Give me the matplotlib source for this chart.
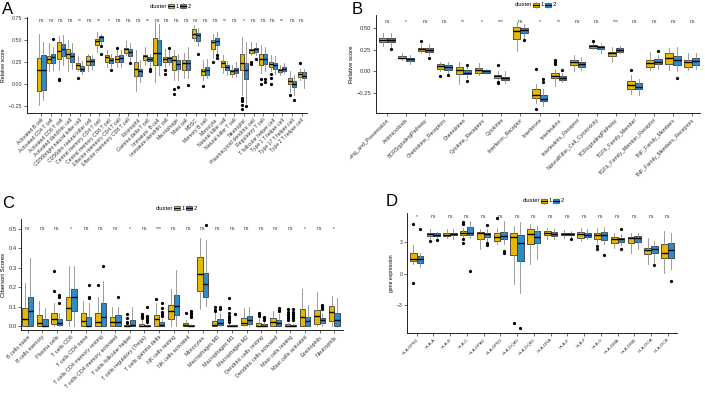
import matplotlib
matplotlib.use("Agg")
import matplotlib.pyplot as plt
from matplotlib.patches import Rectangle
from matplotlib.lines import Line2D
from matplotlib.transforms import Bbox, TransformedBbox

plt.rcParams['font.family'] = ['Liberation Sans', 'DejaVu Sans']

W, H = 705, 396
YELLOW = "#E7B800"
BLUE = "#2E8BCB"

# ---------------- Panel A : ssGSEA immune cells ----------------
A_cells = ["Activated B cell", "Activated CD4 T cell", "Activated CD8 T cell",
           "Activated dendritic cell", "CD56bright natural killer cell",
           "CD56dim natural killer cell", "Central memory CD4 T cell",
           "Central memory CD8 T cell", "Effector memeory CD4 T cell",
           "Effector memeory CD8 T cell", "Eosinophil", "Gamma delta T cell",
           "Immature  B cell", "Immature dendritic cell", "Macrophage", "Mast cell",
           "MDSC", "Memory B cell", "Monocyte", "Natural killer cell",
           "Natural killer T cell", "Neutrophil", "Plasmacytoid dendritic cell",
           "Regulatory T cell", "T follicular helper cell", "Type 1 T helper cell",
           "Type 17 T helper cell", "Type 2 T helper cell"]
A_sig = ["ns", "ns", "ns", "ns", "**", "ns", "**", "*", "ns", "ns", "ns", "**", "ns", "ns",
         "ns", "ns", "ns", "ns", "ns", "**", "ns", "*", "ns", "ns", "ns", "**", "ns", "ns"]
# (whisker low, q1, median, q3, whisker high)
A_c1 = [(-0.24, -0.08, 0.15, 0.29, 0.57), (0.14, 0.23, 0.28, 0.31, 0.46),
        (0.16, 0.28, 0.37, 0.47, 0.54), (0.14, 0.29, 0.34, 0.39, 0.50),
        (0.14, 0.17, 0.21, 0.24, 0.31), (0.14, 0.21, 0.26, 0.31, 0.34),
        (0.36, 0.44, 0.48, 0.51, 0.59), (0.19, 0.25, 0.30, 0.33, 0.38),
        (0.19, 0.25, 0.28, 0.31, 0.38), (0.33, 0.35, 0.39, 0.41, 0.48),
        (-0.08, 0.09, 0.17, 0.25, 0.38), (0.21, 0.27, 0.31, 0.33, 0.42),
        (0.02, 0.21, 0.35, 0.52, 0.70), (0.19, 0.25, 0.28, 0.30, 0.40),
        (0.04, 0.16, 0.27, 0.31, 0.38), (0.06, 0.16, 0.24, 0.27, 0.35),
        (0.48, 0.52, 0.57, 0.62, 0.67), (0.04, 0.10, 0.14, 0.17, 0.27),
        (0.29, 0.40, 0.47, 0.50, 0.57), (0.12, 0.19, 0.23, 0.26, 0.33),
        (0.08, 0.11, 0.14, 0.16, 0.21), (-0.13, 0.15, 0.24, 0.34, 0.53),
        (0.33, 0.35, 0.38, 0.40, 0.47), (0.12, 0.21, 0.28, 0.34, 0.44),
        (0.14, 0.19, 0.22, 0.25, 0.33), (0.10, 0.13, 0.16, 0.17, 0.21),
        (-0.09, 0.00, 0.03, 0.06, 0.14), (0.04, 0.08, 0.11, 0.13, 0.17)]
A_c2 = [(-0.18, -0.07, 0.15, 0.33, 0.47), (0.16, 0.23, 0.30, 0.34, 0.42),
        (0.21, 0.31, 0.40, 0.45, 0.55), (0.17, 0.25, 0.31, 0.35, 0.46),
        (0.11, 0.14, 0.17, 0.20, 0.26), (0.17, 0.21, 0.26, 0.28, 0.33),
        (0.44, 0.48, 0.53, 0.54, 0.57), (0.19, 0.24, 0.27, 0.29, 0.34),
        (0.19, 0.25, 0.29, 0.33, 0.38), (0.25, 0.32, 0.36, 0.40, 0.46),
        (0.02, 0.09, 0.14, 0.17, 0.27), (0.19, 0.26, 0.28, 0.30, 0.34),
        (0.10, 0.21, 0.35, 0.50, 0.68), (0.21, 0.25, 0.29, 0.30, 0.38),
        (0.04, 0.17, 0.22, 0.27, 0.34), (0.06, 0.16, 0.24, 0.27, 0.42),
        (0.43, 0.49, 0.55, 0.58, 0.63), (0.06, 0.10, 0.16, 0.19, 0.28),
        (0.34, 0.44, 0.48, 0.52, 0.59), (0.10, 0.15, 0.19, 0.21, 0.26),
        (0.08, 0.12, 0.16, 0.18, 0.25), (-0.22, 0.05, 0.16, 0.24, 0.47),
        (0.33, 0.36, 0.39, 0.41, 0.46), (0.14, 0.22, 0.28, 0.34, 0.42),
        (0.11, 0.17, 0.21, 0.24, 0.31), (0.12, 0.14, 0.17, 0.19, 0.23),
        (-0.13, -0.04, 0.00, 0.03, 0.10), (-0.05, 0.06, 0.09, 0.13, 0.17)]
A_out1 = {2: [0.05, 0.04], 4: [0.07], 8: [0.41], 13: [0.15, 0.11], 14: [-0.06, -0.12],
          17: [-0.03], 18: [0.25], 21: [-0.16, -0.18, -0.20, -0.24, -0.29],
          22: [0.25, 0.22], 23: [0.05, 0.0], 24: [0.11, 0.06, 0.0], 26: [-0.13], 27: [0.23]}
A_out2 = {1: [0.51], 6: [0.43, 0.34], 7: [0.15], 9: [0.24], 11: [0.17, 0.14], 13: [0.41],
          14: [-0.04], 15: [-0.02], 16: [0.34], 18: [0.33, 0.29], 21: [-0.25],
          22: [0.28], 23: [0.05, 0.02], 26: [-0.19]}

# ---------------- Panel B : immune functions ----------------
B_terms = ["Antigen_Processing_and_Presentation", "Antimicrobials", "BCRSignalingPathway",
           "Chemokine_Receptors", "Chemokines", "Cytokine_Receptors", "Cytokines",
           "Interferon_Receptor", "Interferons", "Interleukins", "Interleukins_Receptor",
           "NaturalKiller_Cell_Cytotoxicity", "TCRsignalingPathway", "TGFb_Family_Member",
           "TGFb_Family_Member_Receptor", "TNF_Family_Members", "TNF_Family_Members_Receptors"]
B_sig = ["ns", "*", "ns", "ns", "**", "*", "***", "ns", "*", "**", "ns", "ns", "***",
         "ns", "ns", "ns", "ns"]
B_c1 = [(0.30, 0.34, 0.37, 0.39, 0.44), (0.13, 0.15, 0.16, 0.18, 0.21),
        (0.21, 0.24, 0.26, 0.27, 0.32), (0.00, 0.03, 0.06, 0.08, 0.11),
        (-0.15, -0.03, 0.02, 0.05, 0.11), (-0.04, -0.02, 0.02, 0.04, 0.10),
        (-0.12, -0.08, -0.06, -0.04, 0.00), (0.24, 0.38, 0.47, 0.51, 0.57),
        (-0.37, -0.31, -0.28, -0.20, -0.15), (-0.17, -0.08, -0.05, -0.02, 0.03),
        (0.00, 0.07, 0.11, 0.13, 0.19), (0.26, 0.27, 0.29, 0.31, 0.33),
        (0.11, 0.18, 0.21, 0.23, 0.28), (-0.26, -0.21, -0.16, -0.11, -0.04),
        (0.02, 0.05, 0.10, 0.13, 0.23), (0.02, 0.08, 0.16, 0.21, 0.27),
        (0.02, 0.05, 0.11, 0.13, 0.21)]
B_c2 = [(0.28, 0.34, 0.37, 0.39, 0.45), (0.09, 0.12, 0.14, 0.16, 0.19),
        (0.19, 0.23, 0.25, 0.27, 0.32), (-0.02, 0.02, 0.05, 0.07, 0.11),
        (-0.08, -0.03, -0.02, 0.02, 0.05), (-0.03, -0.02, 0.00, 0.02, 0.03),
        (-0.14, -0.10, -0.08, -0.07, 0.00), (0.38, 0.44, 0.48, 0.50, 0.55),
        (-0.40, -0.35, -0.32, -0.27, -0.21), (-0.13, -0.10, -0.08, -0.06, -0.02),
        (0.02, 0.05, 0.08, 0.11, 0.17), (0.21, 0.26, 0.28, 0.30, 0.33),
        (0.21, 0.23, 0.25, 0.27, 0.30), (-0.27, -0.21, -0.18, -0.14, -0.09),
        (0.03, 0.08, 0.11, 0.14, 0.19), (0.00, 0.07, 0.13, 0.18, 0.28),
        (0.03, 0.07, 0.12, 0.15, 0.21)]
B_out1 = {2: [0.35], 3: [-0.05], 6: [0.07, -0.13, -0.14], 8: [0.03, -0.44],
          9: [0.13, 0.11, 0.09], 11: [0.35], 13: [0.02]}
B_out2 = {0: [0.26], 2: [0.15], 3: [-0.04], 4: [0.07, -0.11], 7: [0.36],
          8: [-0.09, -0.13], 9: [0.02], 14: [0.24], 15: [-0.08]}

# ---------------- Panel C : CIBERSORT ----------------
C_cells = ["B cells naive", "B cells memory", "Plasma cells", "T cells CD8",
           "T cells CD4 naive", "T cells CD4 memory resting", "T cells CD4 memory activated",
           "T cells follicular helper", "T cells regulatory (Tregs)", "T cells gamma delta",
           "NK cells resting", "NK cells activated", "Monocytes", "Macrophages M0",
           "Macrophages M1", "Macrophages M2", "Dendritic cells resting",
           "Dendritic cells activated", "Mast cells resting", "Mast cells activated",
           "Eosinophils", "Neutrophils"]
C_sig = ["ns", "ns", "ns", "*", "ns", "ns", "ns", "*", "ns", "***", "ns", "ns", "ns",
         "ns", "ns", "ns", "ns", "ns", "ns", "*", "ns", "*"]
C_c1 = [(0, 0, 0.034, 0.09, 0.22), (0, 0, 0.014, 0.055, 0.128),
        (0, 0.009, 0.038, 0.068, 0.116), (0, 0.03, 0.09, 0.15, 0.31),
        (0, 0, 0.026, 0.065, 0.128), (0, 0, 0.02, 0.065, 0.15),
        (0, 0, 0.02, 0.048, 0.10), (0, 0, 0.001, 0.004, 0.008),
        (0, 0, 0.002, 0.012, 0.03), (0, 0, 0.034, 0.055, 0.12),
        (0, 0.034, 0.077, 0.106, 0.19), (0, 0, 0.003, 0.014, 0.03),
        (0.085, 0.18, 0.265, 0.353, 0.45), (0, 0, 0.003, 0.026, 0.068),
        (0, 0, 0.001, 0.004, 0.01), (0, 0.003, 0.017, 0.043, 0.094),
        (0, 0, 0.002, 0.017, 0.035), (0, 0, 0.02, 0.043, 0.077),
        (0, 0, 0.001, 0.008, 0.015), (0, 0, 0.048, 0.085, 0.19),
        (0, 0.009, 0.051, 0.08, 0.174), (0, 0.026, 0.072, 0.102, 0.154)]
C_c2 = [(0, 0, 0.077, 0.15, 0.35), (0, 0, 0.002, 0.034, 0.09),
        (0, 0.003, 0.017, 0.034, 0.068), (0, 0.077, 0.15, 0.19, 0.31),
        (0, 0, 0.002, 0.048, 0.12), (0, 0, 0.048, 0.12, 0.23),
        (0, 0, 0.02, 0.055, 0.10), (0, 0, 0.003, 0.03, 0.10),
        (0, 0, 0.001, 0.005, 0.01), (0, 0, 0.003, 0.02, 0.035),
        (0, 0.056, 0.102, 0.157, 0.287), (0, 0, 0.001, 0.003, 0.008),
        (0.102, 0.148, 0.217, 0.273, 0.44), (0, 0.003, 0.014, 0.034, 0.068),
        (0, 0, 0.001, 0.003, 0.008), (0, 0.009, 0.031, 0.051, 0.10),
        (0, 0, 0.002, 0.009, 0.02), (0, 0, 0.017, 0.031, 0.06),
        (0, 0, 0.001, 0.004, 0.01), (0, 0, 0.026, 0.048, 0.11),
        (0, 0.017, 0.031, 0.043, 0.068), (0, 0, 0.031, 0.068, 0.145)]
C_out1 = {2: [0.28, 0.18], 5: [0.21], 7: [0.06, 0.04, 0.02, 0.015],
          8: [0.06, 0.05, 0.045, 0.04], 9: [0.14], 11: [0.065], 13: [0.10, 0.08, 0.075],
          14: [0.145, 0.094, 0.065, 0.05, 0.04, 0.03, 0.02], 16: [0.065, 0.06, 0.05],
          18: [0.085, 0.07, 0.06, 0.05, 0.04, 0.03]}
C_out2 = {2: [0.16, 0.15, 0.12], 4: [0.21, 0.15, 0.145], 5: [0.31], 6: [0.15],
          8: [0.10, 0.05, 0.04, 0.03, 0.02], 9: [0.12, 0.09, 0.07, 0.06, 0.05],
          11: [0.077, 0.065, 0.055, 0.045], 12: [0.517], 13: [0.10, 0.085], 14: [0.06],
          16: [0.048, 0.04, 0.03], 17: [0.09, 0.08, 0.075],
          18: [0.085, 0.07, 0.06, 0.05, 0.04, 0.03], 20: [0.11, 0.10, 0.09, 0.085]}

# ---------------- Panel D : HLA genes ----------------
D_genes = ["HLA-DPB2", "HLA-A", "HLA-B", "HLA-C", "HLA-DPA1", "HLA-DPB1", "HLA-DQA1",
           "HLA-DQB1", "HLA-DRA", "HLA-E", "HLA-F", "HLA-G", "HLA-DMA", "HLA-DMB",
           "HLA-DOA", "HLA-DOB"]
D_sig = ["*"] + ["ns"] * 15
D_c1 = [(0.88, 1.2, 1.42, 1.93, 2.68), (3.32, 3.57, 3.73, 3.88, 4.2),
        (3.4, 3.57, 3.69, 3.82, 4.2), (3.4, 3.63, 3.88, 4.04, 4.36),
        (2.3, 3.32, 3.88, 3.95, 4.2), (2.78, 3.1, 3.5, 3.82, 4.36),
        (-1.0, 1.74, 3.47, 3.88, 4.5), (0.88, 2.78, 3.73, 4.2, 4.67),
        (3.25, 3.63, 3.88, 4.04, 4.36), (3.4, 3.63, 3.79, 3.88, 4.14),
        (3.1, 3.4, 3.73, 3.95, 4.36), (2.94, 3.25, 3.63, 3.82, 4.36),
        (2.46, 2.87, 3.25, 3.5, 3.88), (1.99, 2.87, 3.35, 3.5, 3.88),
        (0.88, 1.83, 2.21, 2.46, 3.4), (0.03, 1.52, 1.99, 2.78, 4.04)]
D_c2 = [(0.66, 1.04, 1.42, 1.67, 1.99), (3.4, 3.57, 3.69, 3.82, 3.95),
        (3.32, 3.63, 3.79, 3.88, 4.2), (3.4, 3.63, 3.88, 4.45, 4.99),
        (3.1, 3.5, 3.73, 3.88, 4.2), (2.78, 3.25, 3.57, 3.95, 4.99),
        (-1.8, 1.2, 2.94, 3.63, 4.9), (1.42, 2.94, 3.47, 4.04, 4.5),
        (3.32, 3.57, 3.79, 3.95, 4.2), (3.4, 3.63, 3.73, 3.88, 4.04),
        (3.25, 3.5, 3.66, 3.82, 4.26), (2.78, 3.19, 3.63, 3.95, 4.45),
        (2.68, 3.0, 3.25, 3.4, 3.73), (2.37, 3.03, 3.35, 3.57, 3.88),
        (1.04, 1.99, 2.37, 2.62, 3.1), (0.47, 1.52, 2.21, 2.94, 3.88)]
D_out1 = {0: [4.7, -0.92], 1: [3.1], 3: [4.9, 4.7, 3.25, 2.94], 5: [5.3], 6: [-4.64],
          11: [2.6, 2.3]}
D_out2 = {0: [4.26], 1: [3.16], 3: [0.25], 4: [4.6, 2.9, 2.7], 5: [2.15, 1.93],
          6: [-5.1], 9: [3.32], 11: [1.74], 12: [4.2, 2.37], 14: [0.79], 15: [-0.69]}


def px_rect(l, t, r, b):
    return [l / W, 1 - b / H, (r - l) / W, (b - t) / H]


def to_stats(rows, outs):
    st = []
    for i, (lo, q1, med, q3, hi) in enumerate(rows):
        st.append(dict(whislo=lo, q1=q1, med=med, q3=q3, whishi=hi,
                       fliers=outs.get(i, [])))
    return st


def panel(rect, labels, sig, c1, c2, out1, out2, xlim, ylim, yticks, yticklabels,
          ylabel, sig_y, width, lab_fs, tick_fs):
    ax = fig.add_axes(px_rect(*rect))
    n = len(labels)
    pos = list(range(1, n + 1))
    for rows, outs, col, off in [(c1, out1, YELLOW, -width / 2), (c2, out2, BLUE, width / 2)]:
        ax.bxp(to_stats(rows, outs), positions=[p + off for p in pos], widths=width,
               patch_artist=True, showcaps=False, manage_ticks=False,
               boxprops=dict(facecolor=col, edgecolor="#3a3a3a", linewidth=0.6),
               whiskerprops=dict(color="#8c8c8c", linewidth=0.6),
               medianprops=dict(color="black", linewidth=1.0),
               flierprops=dict(marker="o", markersize=1.3, markerfacecolor="black",
                               markeredgecolor="black", linestyle="none"))
    for p, s in zip(pos, sig):
        ax.text(p, sig_y, s, ha="center", va="center", fontsize=3.6, color="#333333")
    ax.set_xlim(*xlim)
    ax.set_ylim(*ylim)
    ax.set_xticks(pos)
    ax.set_xticklabels(labels, rotation=45, ha="right", rotation_mode="anchor",
                       fontsize=lab_fs, color="#333333")
    ax.set_yticks(yticks)
    ax.set_yticklabels(yticklabels, fontsize=tick_fs, color="#333333")
    ax.set_ylabel(ylabel, fontsize=tick_fs, color="black", labelpad=2)
    for s in ["top", "right"]:
        ax.spines[s].set_visible(False)
    for s in ["left", "bottom"]:
        ax.spines[s].set_linewidth(0.6)
    ax.tick_params(length=2, width=0.5, pad=1.2, colors="#333333")
    return ax


def legend(x, y):
    # x, y: left/center of "cluster" text in pixels
    fig.text(x / W, 1 - y / H, "cluster", fontsize=4.2, ha="left", va="center")
    for k, (col, lab) in enumerate([(YELLOW, "1"), (BLUE, "2")]):
        bx = x + 18 + k * 12
        fig.patches.append(Rectangle(((bx) / W, 1 - (y + 2.2) / H), 5.5 / W, 4.4 / H,
                                     transform=fig.transFigure, facecolor=col,
                                     edgecolor="#3a3a3a", linewidth=0.5))
        fig.lines.append(Line2D([bx / W, (bx + 5.5) / W], [1 - y / H, 1 - y / H],
                                transform=fig.transFigure, color="black", linewidth=0.8))
        fig.lines.append(Line2D([(bx + 2.75) / W] * 2, [1 - (y - 3.4) / H, 1 - (y - 2.2) / H],
                                transform=fig.transFigure, color="#8c8c8c", linewidth=0.5))
        fig.lines.append(Line2D([(bx + 2.75) / W] * 2, [1 - (y + 2.2) / H, 1 - (y + 3.4) / H],
                                transform=fig.transFigure, color="#8c8c8c", linewidth=0.5))
        fig.text((bx + 8) / W, 1 - y / H, lab, fontsize=4.2, ha="left", va="center")


fig = plt.figure(figsize=(W / 100, H / 100), dpi=100)

panel((27, 17, 307, 113), A_cells, A_sig, A_c1, A_c2, A_out1, A_out2,
      (-0.5, 28.55), (-0.333, 0.758), [-0.25, 0, 0.25, 0.5, 0.75],
      ["\u22120.25", "0.00", "0.25", "0.50", "0.75"], "Relative score", 0.72, 0.42, 3.7, 3.8)
axB = panel((376, 15, 700, 113), B_terms, B_sig, B_c1, B_c2, B_out1, B_out2,
            (0.42, 17.42), (-0.485, 0.655), [-0.25, 0, 0.25, 0.5],
            ["\u22120.25", "0.00", "0.25", "0.50"], "Relative score", 0.58, 0.4, 3.8, 4.2)
# panel B's longest label is cut at the panel border, as in the original layout
clip = TransformedBbox(Bbox([[350 / W, 0], [1, 1]]), fig.transFigure)
for lbl in axB.get_xticklabels():
    lbl.set_clip_box(clip)
    lbl.set_clip_on(True)

panel((21, 219, 343, 330), C_cells, C_sig, C_c1, C_c2, C_out1, C_out2,
      (0.55, 22.6), (-0.0205, 0.549), [0, 0.1, 0.2, 0.3, 0.4, 0.5],
      ["0.0", "0.1", "0.2", "0.3", "0.4", "0.5"], "Cibersort Scores", 0.5, 0.37, 3.9, 4.2)
panel((407, 213, 677, 333), D_genes, D_sig, D_c1, D_c2, D_out1, D_out2,
      (0.43, 16.55), (-5.61, 5.75), [-3, 0, 3], ["\u22123", "0", "3"],
      "gene expression", 5.46, 0.4, 3.2, 3.6)

legend(150, 6)
legend(515, 5)
legend(156, 208)
legend(523, 201)

for lab, x, y in [("A", 2, 10), ("B", 352, 9), ("C", 2, 204), ("D", 386, 201)]:
    fig.text(x / W, 1 - y / H, lab, fontsize=12, ha="left", va="center")

fig.savefig("out.png", dpi=100)
